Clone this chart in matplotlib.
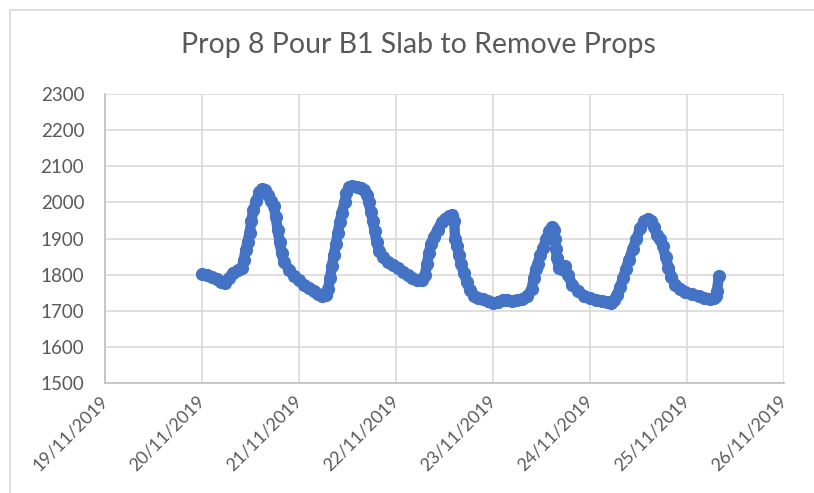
import matplotlib
matplotlib.use("Agg")
import matplotlib.pyplot as plt
import matplotlib.dates as mdates
from matplotlib.patches import Rectangle
import pandas as pd

plt.rcParams['font.family'] = ['Lato', 'DejaVu Sans']

title = 'Prop 8 Pour B1 Slab to Remove Props'
start = pd.Timestamp('2019-11-20')

# readings: days after 20/11/2019 00:00 and measured value
days = [
    0.00, 0.05, 0.10, 0.15, 0.20, 0.24, 0.28, 0.32, 0.37, 0.41,
    0.43, 0.45, 0.47, 0.49, 0.51, 0.53, 0.56, 0.59, 0.62, 0.65,
    0.68, 0.71, 0.74, 0.76, 0.78, 0.80, 0.82, 0.85, 0.90, 0.95,
    1.00, 1.05, 1.10, 1.15, 1.20, 1.24, 1.28, 1.30, 1.32, 1.34,
    1.36, 1.38, 1.40, 1.42, 1.44, 1.47, 1.49, 1.52, 1.55, 1.60,
    1.64, 1.67, 1.70, 1.72, 1.74, 1.76, 1.78, 1.80, 1.83, 1.87,
    1.92, 1.97, 2.02, 2.07, 2.12, 2.17, 2.22, 2.27, 2.30, 2.32,
    2.34, 2.36, 2.39, 2.43, 2.47, 2.51, 2.55, 2.58, 2.60, 2.61,
    2.63, 2.65, 2.67, 2.70, 2.73, 2.76, 2.80, 2.85, 2.90, 2.95,
    3.00, 3.05, 3.10, 3.15, 3.20, 3.25, 3.30, 3.35, 3.40, 3.42,
    3.44, 3.46, 3.49, 3.52, 3.55, 3.58, 3.61, 3.63, 3.64, 3.65,
    3.66, 3.68, 3.71, 3.74, 3.77, 3.82, 3.88, 3.94, 4.00, 4.06,
    4.12, 4.18, 4.22, 4.25, 4.28, 4.31, 4.34, 4.37, 4.40, 4.44,
    4.48, 4.52, 4.56, 4.60, 4.63, 4.66, 4.69, 4.72, 4.75, 4.78,
    4.81, 4.84, 4.88, 4.93, 4.98, 5.05, 5.12, 5.18, 5.24, 5.28,
    5.30, 5.31, 5.33,
]
values = [
    1803, 1798, 1793, 1788, 1780, 1778, 1790, 1806, 1812, 1818,
    1840, 1868, 1892, 1915, 1950, 1980, 2005, 2028, 2037, 2035,
    2022, 2005, 1990, 1960, 1925, 1890, 1860, 1835, 1812, 1797,
    1785, 1772, 1762, 1754, 1746, 1742, 1745, 1760, 1790, 1825,
    1855, 1885, 1915, 1945, 1970, 2000, 2025, 2042, 2046, 2044,
    2040, 2035, 2020, 2000, 1975, 1950, 1920, 1890, 1865, 1848,
    1835, 1826, 1818, 1808, 1798, 1790, 1785, 1786, 1800, 1830,
    1860, 1885, 1905, 1925, 1945, 1955, 1962, 1965, 1950, 1900,
    1880, 1855, 1830, 1805, 1780, 1758, 1742, 1736, 1732, 1726,
    1722, 1725, 1731, 1730, 1728, 1730, 1733, 1740, 1760, 1790,
    1815, 1830, 1855, 1875, 1900, 1920, 1932, 1925, 1900, 1870,
    1845, 1818, 1815, 1825, 1800, 1772, 1755, 1742, 1735, 1730,
    1728, 1724, 1722, 1730, 1745, 1765, 1790, 1815, 1840, 1870,
    1900, 1930, 1948, 1955, 1950, 1932, 1910, 1898, 1880, 1850,
    1820, 1795, 1772, 1760, 1752, 1746, 1740, 1735, 1732, 1735,
    1740, 1755, 1797,
]

times = [start + pd.Timedelta(days=d) for d in days]

blue = '#4472C4'
grid = '#D9D9D9'
text = '#595959'

fig = plt.figure(figsize=(8.14, 4.93), dpi=100)
ax = fig.add_axes([0.129, 0.223, 0.834, 0.586])

ax.plot(times, values, color=blue, linewidth=7.5, solid_capstyle='round',
        solid_joinstyle='round', marker='o', markersize=8.5,
        markerfacecolor=blue, markeredgecolor=blue, zorder=3)

ax.set_ylim(1500, 2300)
ax.set_yticks(range(1500, 2301, 100))
ax.set_xlim(pd.Timestamp('2019-11-19'), pd.Timestamp('2019-11-26'))
ax.xaxis.set_major_locator(mdates.DayLocator())
ax.xaxis.set_major_formatter(mdates.DateFormatter('%d/%m/%Y'))

ax.grid(True, color=grid, linewidth=1.2)
ax.set_axisbelow(True)
for side in ['top', 'right']:
    ax.spines[side].set_visible(False)
for side in ['left', 'bottom']:
    ax.spines[side].set_color('#BFBFBF')
    ax.spines[side].set_linewidth(1.2)

ax.tick_params(length=0, colors=text)
ax.tick_params(axis='y', pad=15, labelsize=13.5)
ax.tick_params(axis='x', pad=11, labelsize=12.8)
for lbl in ax.get_xticklabels():
    lbl.set_rotation(45)
    lbl.set_ha('right')
    lbl.set_va('center')
    lbl.set_rotation_mode('anchor')

fig.text(0.514, 0.908, title, ha='center', va='center', fontsize=20.5, color=text)

# outer chart frame
fig.patches.append(Rectangle((10 / 814, -0.1), 1.0, 1.08,
                             transform=fig.transFigure, fill=False,
                             edgecolor='#D9D9D9', linewidth=1.2))

fig.savefig('out.png', dpi=100)
